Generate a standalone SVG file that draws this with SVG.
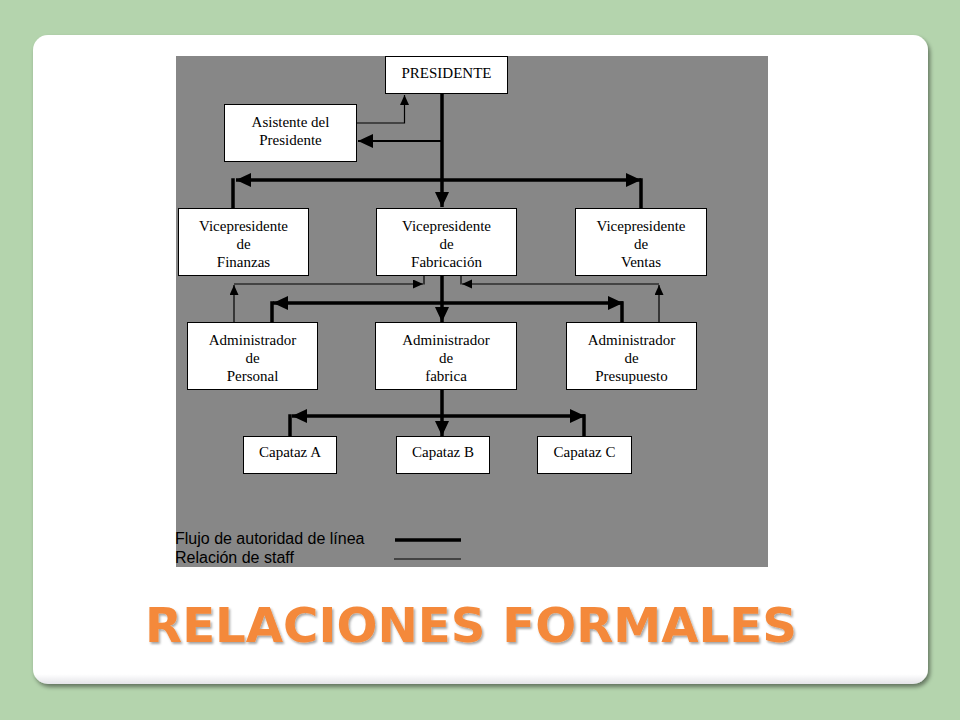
<svg xmlns="http://www.w3.org/2000/svg" width="960" height="720" viewBox="0 0 960 720">
<defs>
<filter id="cardShadow" x="-5%" y="-5%" width="110%" height="112%">
<feDropShadow dx="2" dy="3" stdDeviation="2" flood-color="#000" flood-opacity="0.45"/>
</filter>
<filter id="titleShadow" x="-5%" y="-20%" width="110%" height="150%">
<feDropShadow dx="1.5" dy="2" stdDeviation="1.2" flood-color="#000" flood-opacity="0.35"/>
</filter>
<linearGradient id="cardGrad" x1="0" y1="0" x2="0" y2="1">
<stop offset="0.985" stop-color="#ffffff"/>
<stop offset="1" stop-color="#e4e4e8"/>
</linearGradient>
<marker id="ah" markerUnits="userSpaceOnUse" markerWidth="16" markerHeight="15" refX="15" refY="7" orient="auto">
<path d="M0,0 L15,7 L0,14 z" fill="#000"/>
</marker>
<marker id="as" markerUnits="userSpaceOnUse" markerWidth="11" markerHeight="10" refX="10" refY="4.5" orient="auto">
<path d="M0,0 L10,4.5 L0,9 z" fill="#000"/>
</marker>
</defs>
<style>
.node rect{fill:#fff;stroke:#000;stroke-width:1}
.node text{font-family:"Liberation Serif","Times New Roman",serif;font-size:15px;fill:#000;text-anchor:middle}
.thick{stroke:#000;stroke-width:3.5;fill:none}
.mid{stroke:#000;stroke-width:2;fill:none}
.thin{stroke:#000;stroke-width:1.2;fill:none}
.legend{font-family:"Liberation Sans",Arial,sans-serif;font-size:16px;fill:#000}
</style>
<rect x="0" y="0" width="960" height="720" fill="#b4d4ad"/>
<rect x="33" y="35" width="895" height="649" rx="15" fill="url(#cardGrad)" filter="url(#cardShadow)"/>
<rect x="176" y="56" width="592" height="511" fill="#878787"/>

<g id="connectors">
<line class="thick" x1="442" y1="94" x2="442" y2="207" marker-end="url(#ah)"/>
<line class="mid" x1="442" y1="141" x2="358" y2="141" marker-end="url(#ah)"/>
<path class="thin" d="M357,123 H404.5 V95" marker-end="url(#as)"/>
<line class="thick" x1="442" y1="180" x2="236" y2="180" marker-end="url(#ah)"/>
<line class="thick" x1="442" y1="180" x2="641" y2="180" marker-end="url(#ah)"/>
<line class="thick" x1="233" y1="178.25" x2="233" y2="208"/>
<line class="thick" x1="641" y1="178.25" x2="641" y2="209"/>
<line class="thick" x1="442" y1="276" x2="442" y2="322" marker-end="url(#ah)"/>
<line class="thick" x1="442" y1="303" x2="273" y2="303" marker-end="url(#ah)"/>
<line class="thick" x1="442" y1="303" x2="623" y2="303" marker-end="url(#ah)"/>
<line class="thick" x1="272" y1="301.25" x2="272" y2="322"/>
<line class="thick" x1="622" y1="301.25" x2="622" y2="322"/>
<line class="thick" x1="442" y1="389" x2="442" y2="436" marker-end="url(#ah)"/>
<line class="thick" x1="442" y1="416" x2="292" y2="416" marker-end="url(#ah)"/>
<line class="thick" x1="442" y1="416" x2="585" y2="416" marker-end="url(#ah)"/>
<line class="thick" x1="290" y1="414.25" x2="290" y2="436"/>
<line class="thick" x1="584" y1="414.25" x2="584" y2="436"/>
<line class="thin" x1="234" y1="322" x2="234" y2="285" marker-end="url(#as)"/>
<line class="thin" x1="234" y1="284" x2="423" y2="284" marker-end="url(#as)"/>
<line class="thin" x1="424" y1="276" x2="424" y2="284.6"/>
<line class="thin" x1="659" y1="284" x2="462" y2="284" marker-end="url(#as)"/>
<line class="thin" x1="461" y1="276" x2="461" y2="284.6"/>
<line class="thin" x1="659" y1="322" x2="659" y2="285" marker-end="url(#as)"/>
</g>

<g id="presidente" class="node"><rect x="385.5" y="56.5" width="122" height="37"/><text x="446.5" y="78">PRESIDENTE</text></g>
<g id="asistente" class="node"><rect x="224.5" y="104.5" width="132" height="57"/><text x="290.5" y="127">Asistente del</text><text x="290.5" y="145">Presidente</text></g>
<g id="vp-finanzas" class="node"><rect x="178.5" y="208.5" width="130" height="67"/><text x="243.5" y="231">Vicepresidente</text><text x="243.5" y="249">de</text><text x="243.5" y="267">Finanzas</text></g>
<g id="vp-fabricacion" class="node"><rect x="376.5" y="208.5" width="140" height="67"/><text x="446.5" y="231">Vicepresidente</text><text x="446.5" y="249">de</text><text x="446.5" y="267">Fabricación</text></g>
<g id="vp-ventas" class="node"><rect x="575.5" y="208.5" width="131" height="67"/><text x="641" y="231">Vicepresidente</text><text x="641" y="249">de</text><text x="641" y="267">Ventas</text></g>
<g id="adm-personal" class="node"><rect x="187.5" y="322.5" width="130" height="67"/><text x="252.5" y="345">Administrador</text><text x="252.5" y="363">de</text><text x="252.5" y="381">Personal</text></g>
<g id="adm-fabrica" class="node"><rect x="375.5" y="322.5" width="141" height="67"/><text x="446" y="345">Administrador</text><text x="446" y="363">de</text><text x="446" y="381">fabrica</text></g>
<g id="adm-presupuesto" class="node"><rect x="566.5" y="322.5" width="130" height="67"/><text x="631.5" y="345">Administrador</text><text x="631.5" y="363">de</text><text x="631.5" y="381">Presupuesto</text></g>
<g id="capataz-a" class="node"><rect x="243.5" y="436.5" width="93" height="37"/><text x="290" y="457">Capataz A</text></g>
<g id="capataz-b" class="node"><rect x="396.5" y="436.5" width="93" height="37"/><text x="443" y="457">Capataz B</text></g>
<g id="capataz-c" class="node"><rect x="537.5" y="436.5" width="94" height="37"/><text x="584.5" y="457">Capataz C</text></g>

<g id="legend">
<text class="legend" x="175" y="544">Flujo de autoridad de línea</text>
<text class="legend" x="175" y="563">Relación de staff</text>
<line class="thick" x1="395" y1="540" x2="461" y2="540"/>
<line stroke="#000" stroke-width="1" x1="394" y1="559" x2="461" y2="559"/>
</g>

<text x="471" y="642" font-family="'DejaVu Sans',Verdana,sans-serif" font-weight="bold" font-size="48" fill="#f4893a" text-anchor="middle" textLength="652" lengthAdjust="spacingAndGlyphs" filter="url(#titleShadow)">RELACIONES FORMALES</text>
</svg>
